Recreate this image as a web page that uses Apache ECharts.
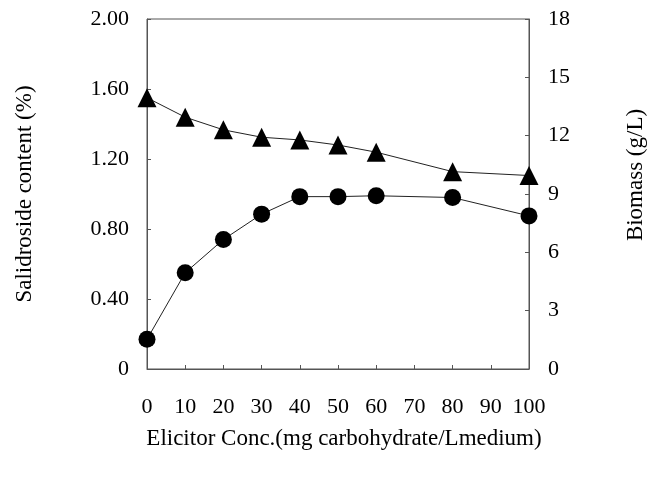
<!DOCTYPE html>
<html>
<head>
<meta charset="utf-8">
<script src="https://cdn.jsdelivr.net/npm/echarts@6/dist/echarts.min.js"></script>
<style>
html, body { margin: 0; padding: 0; background: #fff; }
#chart { width: 647px; height: 479px; }
</style>
</head>
<body>
<div id="chart"></div>
<script>
var conc = [0, 10, 20, 30, 40, 50, 60, 80, 100];
var salidroside = [0.17, 0.55, 0.74, 0.885, 0.985, 0.985, 0.99, 0.98, 0.875];
var biomass = [13.95, 12.95, 12.3, 11.92, 11.78, 11.52, 11.15, 10.15, 9.95];

var font = 'Liberation Serif';
var axisColor = '#555';

function pairs(xs, ys) {
    return xs.map(function (x, i) { return [x, ys[i]]; });
}

var chart = echarts.init(document.getElementById('chart'));
var option = {
    animation: false,
    backgroundColor: '#fff',
    grid: {
        left: 147,
        right: 118,
        top: 19,
        bottom: 110,
        outerBoundsMode: 'none',
        containLabel: false,
        show: true,
        borderColor: axisColor,
        borderWidth: 1
    },
    xAxis: {
        type: 'value',
        min: 0,
        max: 100,
        interval: 10,
        name: 'Elicitor Conc.(mg carbohydrate/Lmedium)',
        nameLocation: 'middle',
        nameGap: 58,
        nameTextStyle: {fontFamily: font, fontSize: 23, color: '#000', padding: [0, 0, 0, 12]},
        axisLine: {lineStyle: {color: axisColor, width: 1}},
        axisTick: {inside: true, length: 4, lineStyle: {color: axisColor}},
        axisLabel: {fontFamily: font, fontSize: 22, color: '#000', margin: 27},
        splitLine: {show: false}
    },
    yAxis: [
        {
            type: 'value',
            min: 0,
            max: 2,
            interval: 0.4,
            position: 'left',
            name: 'Salidroside content (%)',
            nameLocation: 'middle',
            nameGap: 111,
            nameTextStyle: {fontFamily: font, fontSize: 23, color: '#000'},
            axisLine: {show: true, lineStyle: {color: axisColor, width: 1}},
            axisTick: {show: true, inside: true, length: 4, lineStyle: {color: axisColor}},
            axisLabel: {
                fontFamily: font, fontSize: 22, color: '#000', margin: 18,
                formatter: function (v) { return v === 0 ? '0' : v.toFixed(2); }
            },
            splitLine: {show: false}
        },
        {
            type: 'value',
            min: 0,
            max: 18,
            interval: 3,
            position: 'right',
            name: 'Biomass (g/L)',
            nameLocation: 'middle',
            nameGap: 95,
            nameTextStyle: {fontFamily: font, fontSize: 23, color: '#000', padding: [0, 0, 0, 38]},
            axisLine: {show: true, lineStyle: {color: axisColor, width: 1}},
            axisTick: {show: true, inside: true, length: 4, lineStyle: {color: axisColor}},
            axisLabel: {fontFamily: font, fontSize: 22, color: '#000', margin: 19},
            splitLine: {show: false}
        }
    ],
    series: [
        {
            name: 'Salidroside',
            type: 'line',
            yAxisIndex: 0,
            data: pairs(conc, salidroside),
            symbol: 'circle',
            symbolSize: 17,
            itemStyle: {color: '#000'},
            lineStyle: {color: '#222', width: 1}
        },
        {
            name: 'Biomass',
            type: 'line',
            yAxisIndex: 1,
            data: pairs(conc, biomass),
            symbol: 'triangle',
            symbolSize: 19,
            itemStyle: {color: '#000'},
            lineStyle: {color: '#222', width: 1}
        }
    ]
};
chart.setOption(option);
</script>
</body>
</html>
